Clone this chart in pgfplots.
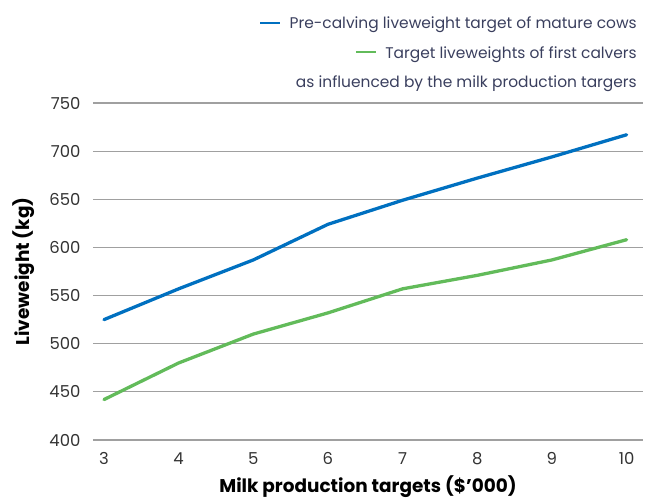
\documentclass[border=0pt]{standalone}
\usepackage{fontspec}
\setmainfont{Poppins}
\usepackage{pgfplots}
\pgfplotsset{compat=1.18}
\definecolor{cblue}{HTML}{0070C0}
\definecolor{cgreen}{HTML}{62BB5A}
\definecolor{ctext}{HTML}{3A3F5E}
\definecolor{cgrid}{HTML}{A0A0A0}
\begin{document}
\begin{tikzpicture}
\begin{axis}[
  name=ax,
  scale only axis,
  width=550bp, height=337bp,
  xmin=2.853, xmax=10.22,
  ymin=400, ymax=750,
  xtick={3,...,10}, ytick={400,450,...,750},
  axis line style={draw=none},
  major tick length=0pt,
  ymajorgrids,
  grid style={cgrid, line width=1.1pt},
  /pgf/number format/assume math mode=true,
  ticklabel style={font=\fontsize{16.5}{19}\selectfont, text=black!80},
  yticklabel style={xshift=-9bp},
  xticklabel style={yshift=-9bp},
  xlabel={\textbf{Milk production targets (\$'000)}},
  ylabel={\textbf{Liveweight (kg)}},
  label style={font=\fontsize{18.5}{22}\selectfont, text=black},
  xlabel style={yshift=-4bp},
  ylabel style={yshift=8bp},
  clip=false,
  legend style={at={(1,1)}, anchor=south east, xshift=-4bp, yshift=12bp, draw=none, fill=none,
    font=\fontsize{15.5}{18}\selectfont, text=ctext, row sep=12bp, inner sep=0pt},
  legend cell align=right,
]
\addplot[cblue, line width=3.3pt, line cap=round, forget plot] coordinates {
 (3,525) (4,557) (5,587) (6,624) (7,649) (8,672) (9,694) (10,717)};
\addplot[cgreen, line width=3.3pt, line cap=round, forget plot] coordinates {
 (3,442) (4,480) (5,510) (6,532) (7,557) (8,571) (9,587) (10,608)};
\addlegendimage{empty legend}
\addlegendentry{\textcolor{cblue}{\rule[0.3em]{1.3em}{2.4pt}}\hspace{0.6em}Pre-calving liveweight target of mature cows}
\addlegendimage{empty legend}
\addlegendentry{\textcolor{cgreen}{\rule[0.3em]{1.3em}{2.4pt}}\hspace{0.6em}Target liveweights of first calvers}
\addlegendimage{empty legend}
\addlegendentry{as influenced by the milk production targers}
\end{axis}
\pgfresetboundingbox
\path ([xshift=-93bp,yshift=-60bp]ax.south west) rectangle ([xshift=6bp,yshift=103bp]ax.north east);
\end{tikzpicture}
\end{document}
